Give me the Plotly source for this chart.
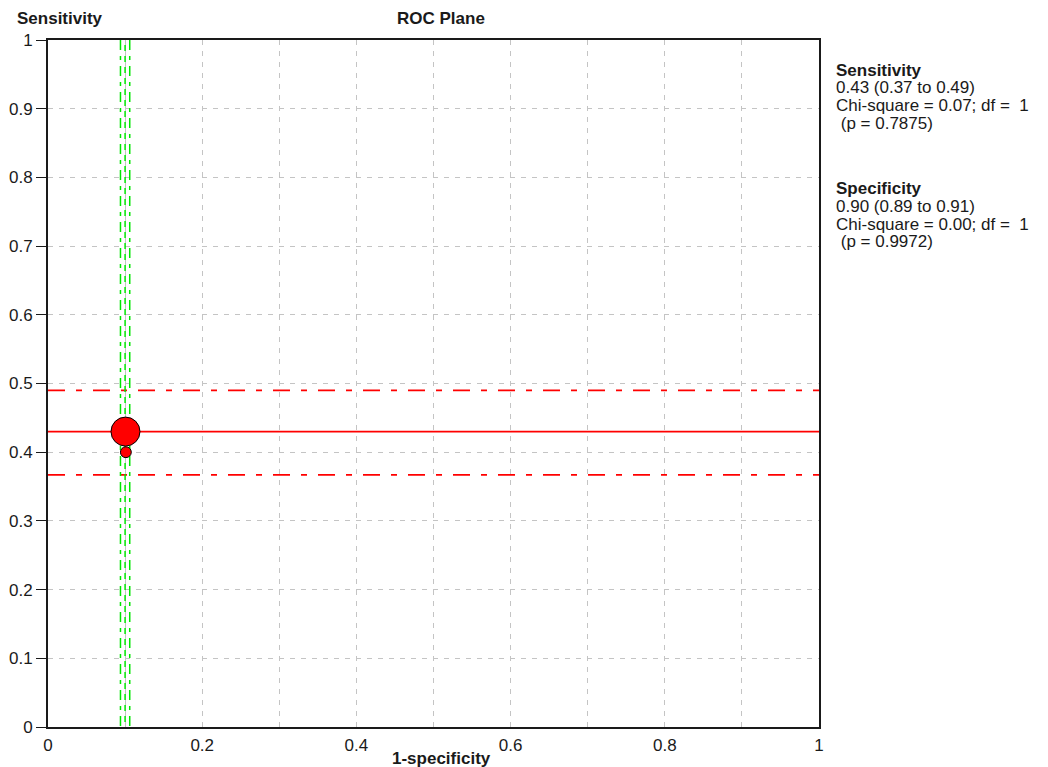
import plotly.graph_objects as go

# ---------------- data ----------------
study_fpr = [0.1005, 0.101]          # 1-specificity of each study
study_sens = [0.43, 0.40]            # sensitivity of each study
study_weight = [100, 14]             # relative study weight (marker area)

pooled_sens = 0.43
pooled_sens_ci = [0.367, 0.49]
pooled_fpr = 0.10
pooled_fpr_ci = [0.094, 0.106]

x_tick_vals = [0, 0.1, 0.2, 0.3, 0.4, 0.5, 0.6, 0.7, 0.8, 0.9, 1]
x_tick_text = ["0", "", "0.2", "", "0.4", "", "0.6", "", "0.8", "", "1"]
y_tick_vals = [0, 0.1, 0.2, 0.3, 0.4, 0.5, 0.6, 0.7, 0.8, 0.9, 1]
y_tick_text = ["0", "0.1", "0.2", "0.3", "0.4", "0.5", "0.6", "0.7", "0.8", "0.9", "1"]

sens_lines = ["<b>Sensitivity</b>", "0.43 (0.37 to 0.49)",
              "Chi-square = 0.07; df =\u00a0\u00a01", "\u00a0(p = 0.7875)"]
spec_lines = ["<b>Specificity</b>", "0.90 (0.89 to 0.91)",
              "Chi-square = 0.00; df =\u00a0\u00a01", "\u00a0(p = 0.9972)"]

# ---------------- layout constants ----------------
W, H = 1048, 767
L, R, T, B = 48, 229, 40, 40
PW, PH = W - L - R, H - T - B
FONT = "Liberation Sans, Arial, sans-serif"
RED = "#ff0000"
GREEN = "#00e600"
GRID = "#c4c4c4"


def px_x(px):
    return (px - L) / PW


def px_y(py):
    return (H - B - py) / PH


fig = go.Figure()

# pooled sensitivity line and CI
fig.add_trace(go.Scatter(x=[0, 1], y=[pooled_sens, pooled_sens], mode="lines",
                         line=dict(color=RED, width=1.7), hoverinfo="skip"))
for v in pooled_sens_ci:
    fig.add_trace(go.Scatter(x=[0, 1], y=[v, v], mode="lines",
                             line=dict(color=RED, width=1.7, dash="17px,11px,6px,11px"),
                             hoverinfo="skip"))

# pooled 1-specificity line (drawn under the dashed grid line) and CI
fig.add_trace(go.Scatter(x=[pooled_fpr, pooled_fpr], y=[1, 0], mode="lines",
                         line=dict(color=GREEN, width=1.5, dash="0px,5px,6px,0px"),
                         hoverinfo="skip"))
for v in pooled_fpr_ci:
    fig.add_trace(go.Scatter(x=[v, v], y=[1, 0], mode="lines",
                             line=dict(color=GREEN, width=1.5, dash="10px,6px,4px,6px"),
                             hoverinfo="skip"))

# studies
sizes = [29 * (w / max(study_weight)) ** 0.5 for w in study_weight]
fig.add_trace(go.Scatter(x=study_fpr, y=study_sens, mode="markers",
                         marker=dict(color=RED, size=sizes, opacity=1,
                                     line=dict(color="#000000", width=1)),
                         hoverinfo="skip"))

axis_common = dict(range=[0, 1], showgrid=True, gridcolor=GRID, gridwidth=1,
                   griddash="5px,6px", showline=True, linecolor="#1a1a1a",
                   linewidth=2, mirror=True, zeroline=False, fixedrange=True,
                   automargin=False,
                   tickfont=dict(family=FONT, size=17, color="#1a1a1a"))

fig.update_xaxes(**axis_common, tickmode="array", tickvals=x_tick_vals,
                 ticktext=x_tick_text, ticks="", ticklabelstandoff=2)
fig.update_yaxes(**axis_common, tickmode="array", tickvals=y_tick_vals,
                 ticktext=y_tick_text, ticks="outside", ticklen=10,
                 tickcolor="#1a1a1a", tickwidth=1)

annotations = [
    dict(text="<b>Sensitivity</b>", x=px_x(15), y=px_y(18), xanchor="left"),
    dict(text="<b>ROC Plane</b>", x=px_x(441), y=px_y(18), xanchor="center"),
    dict(text="<b>1-specificity</b>", x=px_x(441), y=px_y(758), xanchor="center"),
]
for i, t in enumerate(sens_lines):
    annotations.append(dict(text=t, x=px_x(834), y=px_y(70 + 17.7 * i), xanchor="left"))
for i, t in enumerate(spec_lines):
    annotations.append(dict(text=t, x=px_x(834), y=px_y(188 + 18 * i), xanchor="left"))

for a in annotations:
    a.update(xref="paper", yref="paper", yanchor="middle", showarrow=False,
             font=dict(family=FONT, size=17, color="#1a1a1a"))

fig.update_layout(width=W, height=H, margin=dict(l=L, r=R, t=T, b=B, pad=0),
                  plot_bgcolor="white", paper_bgcolor="white", showlegend=False,
                  annotations=annotations)

fig.write_html("out.html", config={"displayModeBar": False, "staticPlot": True},
               post_script="document.body.style.margin='0';document.body.style.overflow='hidden';")
